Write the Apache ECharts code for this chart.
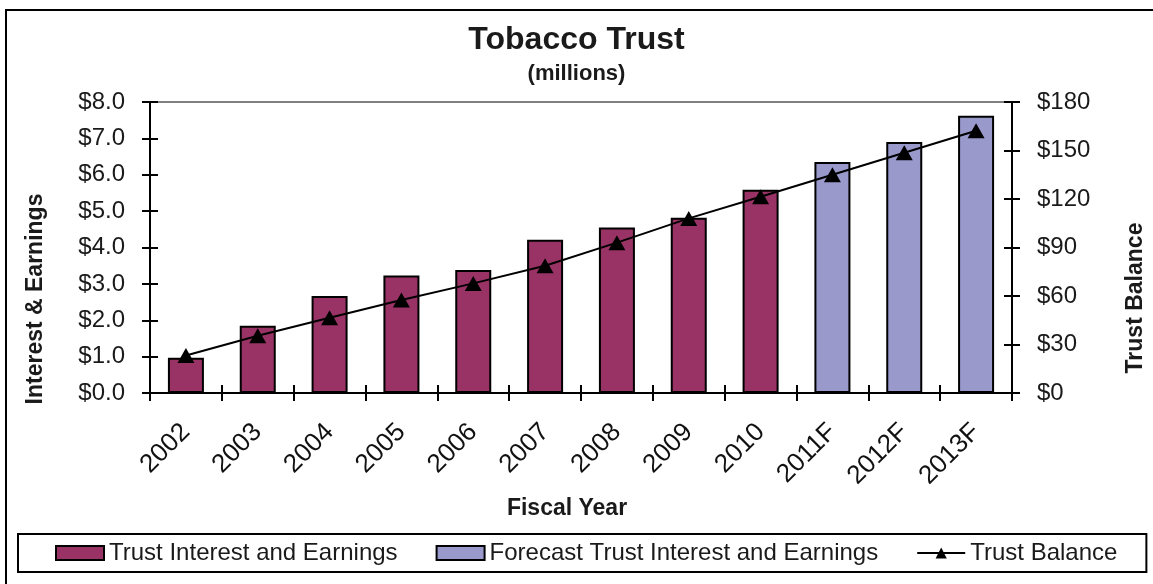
<!DOCTYPE html>
<html>
<head>
<meta charset="utf-8">
<script src="https://cdn.jsdelivr.net/npm/echarts@6/dist/echarts.min.js"></script>
<style>
html,body{margin:0;padding:0;background:#fff;}
#chart{width:1153px;height:584px;}
</style>
</head>
<body>
<div id="chart"></div>
<script>
var categories = ['2002','2003','2004','2005','2006','2007','2008','2009','2010','2011F','2012F','2013F'];
var interestEarnings = [0.97,1.85,2.67,3.23,3.38,4.21,4.55,4.82,5.59,null,null,null];
var forecastEarnings = [null,null,null,null,null,null,null,null,null,6.35,6.90,7.62];
var trustBalance = [23.2,35.4,46.6,57.5,67.8,78.7,93.0,108.0,121.4,135.0,148.6,162.2];
var leftTicks = {min:0, max:8, interval:1};
var rightTicks = {min:0, max:180, interval:30};

var FONT = 'Liberation Sans, Arial, sans-serif';
var chart = echarts.init(document.getElementById('chart'), null, {renderer:'canvas'});

var axisLine = {show:true, onZero:false, lineStyle:{color:'#000', width:2}};
function yAx(pos, t, inside, labels, fmt){
  return {
    type:'value', position:pos, min:t.min, max:t.max, interval:t.interval,
    axisLine:axisLine,
    axisTick:{show:true, inside:inside, length:8, lineStyle:{color:'#000', width:2}},
    axisLabel:{show:labels, margin:25, color:'#1a1a1a', fontSize:24, fontFamily:FONT, formatter:fmt},
    splitLine:{show:false}
  };
}

var option = {
  animation:false,
  backgroundColor:'#fff',
  title:[
    {text:'Tobacco Trust', left:'center', top:19, textStyle:{fontFamily:FONT, fontSize:32, fontWeight:'bold', color:'#1a1a1a'}},
    {text:'(millions)', left:'center', top:58, textStyle:{fontFamily:FONT, fontSize:22, fontWeight:'bold', color:'#1a1a1a'}}
  ],
  grid:{left:150, right:141, top:102, bottom:191, containLabel:false},
  xAxis:[
    {type:'category', data:categories, position:'bottom', boundaryGap:true,
     axisLine:axisLine,
     axisTick:{show:true, inside:false, length:8, alignWithLabel:false, lineStyle:{color:'#000', width:2}},
     axisLabel:{rotate:45, margin:35, color:'#111', fontSize:26, fontFamily:FONT, interval:0}},
    {type:'category', data:categories, position:'bottom', boundaryGap:true,
     axisLine:axisLine,
     axisTick:{show:true, inside:true, length:8, lineStyle:{color:'#000', width:2}},
     axisLabel:{show:false}},
    {type:'category', data:categories, position:'top', boundaryGap:true,
     axisLine:{show:true, onZero:false, lineStyle:{color:'#808080', width:2}},
     axisTick:{show:false}, axisLabel:{show:false}}
  ],
  yAxis:[
    yAx('left', leftTicks, false, true, function(v){return '$' + v.toFixed(1);}),
    yAx('right', rightTicks, false, true, function(v){return '$' + v;}),
    yAx('left', leftTicks, true, false),
    yAx('right', rightTicks, true, false)
  ],
  legend:{
    left:18, top:534,
    padding:[7, 29, 7, 37],
    borderColor:'#000', borderWidth:2,
    itemWidth:48, itemHeight:14, itemGap:38,
    textStyle:{fontFamily:FONT, fontSize:24, color:'#1a1a1a'},
    data:[
      {name:'Trust Interest and Earnings', icon:'rect'},
      {name:'Forecast Trust Interest and Earnings', icon:'rect'},
      {name:'Trust Balance'}
    ]
  },
  graphic:[
    {type:'rect', silent:true, z:-1, shape:{x:6, y:10, width:1170, height:600},
     style:{fill:'none', stroke:'#000', lineWidth:2}},
    {type:'text', x:36, y:299, rotation:Math.PI/2,
     style:{text:'Interest & Earnings', fontFamily:FONT, fontSize:23, fontWeight:'bold', fill:'#1a1a1a', align:'center', verticalAlign:'middle'}},
    {type:'text', x:1136, y:298, rotation:Math.PI/2,
     style:{text:'Trust Balance', fontFamily:FONT, fontSize:23, fontWeight:'bold', fill:'#1a1a1a', align:'center', verticalAlign:'middle'}},
    {type:'text', x:567, y:509,
     style:{text:'Fiscal Year', fontFamily:FONT, fontSize:23, fontWeight:'bold', fill:'#1a1a1a', align:'center', verticalAlign:'middle'}}
  ],
  series:[
    {name:'Trust Interest and Earnings', type:'bar', xAxisIndex:0, yAxisIndex:0,
     data:interestEarnings, barWidth:36, barGap:'-100%',
     itemStyle:{color:'#993366', borderColor:'#000', borderWidth:2}},
    {name:'Forecast Trust Interest and Earnings', type:'bar', xAxisIndex:0, yAxisIndex:0,
     data:forecastEarnings, barWidth:36, barGap:'-100%',
     itemStyle:{color:'#9999CC', borderColor:'#000', borderWidth:2}},
    {name:'Trust Balance', type:'line', xAxisIndex:0, yAxisIndex:1,
     data:trustBalance, symbol:'triangle', symbolSize:[17,15], showAllSymbol:true,
     lineStyle:{color:'#000', width:2}, itemStyle:{color:'#000'}, z:5}
  ]
};
chart.setOption(option);
</script>
</body>
</html>
